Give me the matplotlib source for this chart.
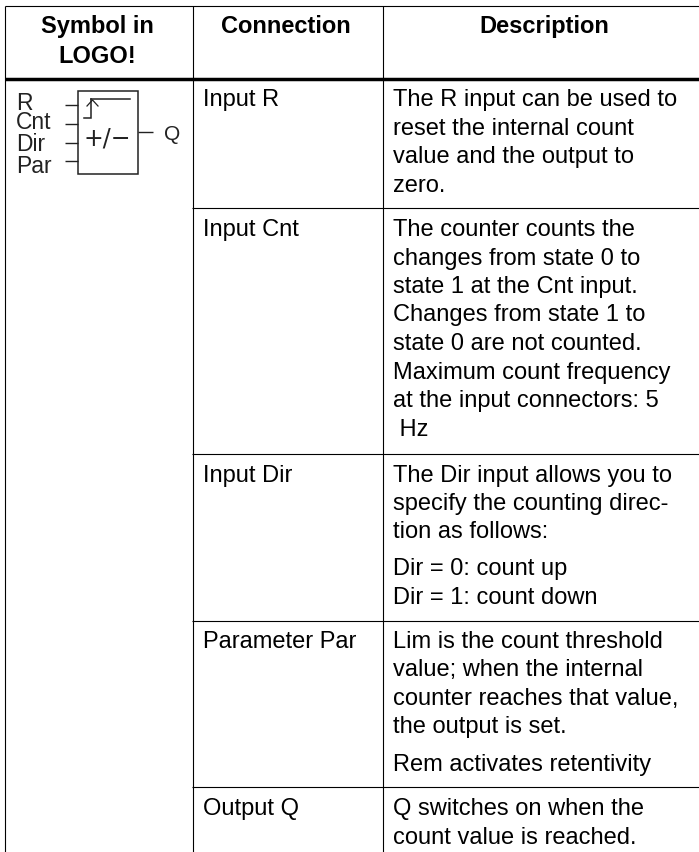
import matplotlib
matplotlib.use("Agg")
import matplotlib.pyplot as plt
from matplotlib.patches import Rectangle

W, H = 699, 852
headers = ["Symbol in", "LOGO!", "Connection", "Description"]
connections = ["Input R", "Input Cnt", "Input Dir", "Parameter Par", "Output Q"]
descriptions = [
    [("The R input can be used to", 106), ("reset the internal count", 135), ("value and the output to", 163), ("zero.", 192)],
    [("The counter counts the", 236), ("changes from state 0 to", 264.5), ("state 1 at the Cnt input.", 293),
     ("Changes from state 1 to", 321.5), ("state 0 are not counted.", 350), ("Maximum count frequency", 378.5),
     ("at the input connectors: 5", 407), (" Hz", 436.5)],
    [("The Dir input allows you to", 482), ("specify the counting direc-", 510), ("tion as follows:", 538),
     ("Dir = 0: count up", 575.5), ("Dir = 1: count down", 604)],
    [("Lim is the count threshold", 648), ("value; when the internal", 676), ("counter reaches that value,", 704.5),
     ("the output is set.", 733), ("Rem activates retentivity", 771)],
    [("Q switches on when the", 815), ("count value is reached.", 843.5)],
]
conn_y = [106, 236, 482, 648, 815]
row_lines = [208, 454, 621, 787]
symbol_inputs = ["R", "Cnt", "Dir", "Par"]

plt.rcParams["font.family"] = ["Liberation Sans", "DejaVu Sans"]
fig = plt.figure(figsize=(W / 100, H / 100), dpi=100)
ax = fig.add_axes([0, 0, 1, 1])
ax.set_xlim(0, W)
ax.set_ylim(H, 0)
ax.axis("off")

FS = 17.05
X0, X1, X2, X3 = 4.8, 193, 383, 699
YT, YH, YB = 6.2, 79, 852
LW = 0.8
for x in (X0, X1, X2):
    ax.plot([x, x], [YT, YB], color="black", lw=LW, solid_capstyle="butt")
ax.plot([X0, X3], [YT, YT], color="black", lw=LW, solid_capstyle="butt")
ax.plot([X0, X3], [YH, YH], color="black", lw=2.5, solid_capstyle="butt")
for y in row_lines:
    ax.plot([X1 - 1, X3], [y, y], color="black", lw=LW, solid_capstyle="butt")

ax.text(97, 33, headers[0], ha="center", va="baseline", fontsize=FS, fontweight="bold")
ax.text(97, 63, headers[1], ha="center", va="baseline", fontsize=FS, fontweight="bold")
ax.text(286, 33, headers[2], ha="center", va="baseline", fontsize=FS, fontweight="bold")
ax.text(544, 33, headers[3], ha="center", va="baseline", fontsize=FS, fontweight="bold")

for label, y in zip(connections, conn_y):
    ax.text(203, y, label, ha="left", va="baseline", fontsize=FS)
for row in descriptions:
    for line, y in row:
        ax.text(393, y, line, ha="left", va="baseline", fontsize=FS)

# LOGO! block symbol
INK = "#222222"
ax.add_patch(Rectangle((78, 91), 60, 83, fill=False, ec=INK, lw=1.1))
for label, y in zip(symbol_inputs, (110, 129, 151, 173)):
    ax.text(16, y, label, ha="left", va="baseline", fontsize=16.5, color=INK)
for y in (105, 124, 142.5, 161):
    ax.plot([65, 78], [y, y], color=INK, lw=1, solid_capstyle="butt")
ax.plot([138, 153], [132, 132], color=INK, lw=1, solid_capstyle="butt")
ax.plot([83.5, 91, 91], [118, 118, 99], color=INK, lw=1.1, solid_joinstyle="miter")
ax.plot([91, 130], [98.5, 98.5], color=INK, lw=1.1)
ax.plot([87, 92.5, 98], [106, 100, 106], color=INK, lw=0.9)
ax.text(107, 139, "+/−", ha="center", va="center", fontsize=17, family="DejaVu Sans", color=INK)
ax.text(172, 139.5, "Q", ha="center", va="baseline", fontsize=15, color=INK)

fig.savefig("out.png", dpi=100)
